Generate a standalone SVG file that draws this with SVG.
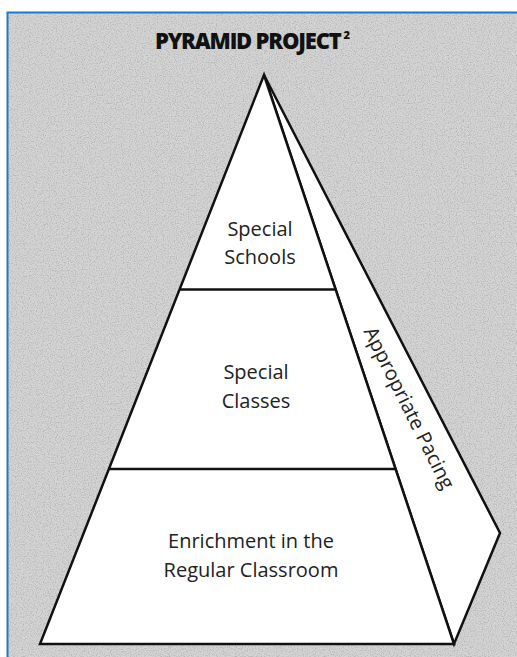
<svg xmlns="http://www.w3.org/2000/svg" width="517" height="657" viewBox="0 0 517 657">
<defs>
<filter id="grain" x="0" y="0" width="100%" height="100%">
<feTurbulence type="fractalNoise" baseFrequency="0.85" numOctaves="2" seed="3" result="n"/>
<feColorMatrix type="matrix" values="0 0 0 0 0.45  0 0 0 0 0.45  0 0 0 0 0.45  0 0 0 2.5 -1.1" in="n"/>
</filter>
<style>
.edge{fill:#ffffff;stroke:#111;stroke-width:2.5;stroke-linejoin:miter}
.line{stroke:#111;stroke-width:2.5;fill:none}
.lbl{font-family:"Open Sans","Noto Sans","Liberation Sans",sans-serif;font-size:20px;fill:#222;text-anchor:middle}
.title{font-family:"Open Sans","Liberation Sans",sans-serif;font-weight:800;font-size:22px;fill:#111;letter-spacing:-1.2px}
</style>
</defs>
<rect x="0" y="0" width="517" height="657" fill="#ffffff"/>
<rect x="7" y="12" width="520" height="660" fill="#d4d4d4"/>
<rect x="7" y="12" width="520" height="660" filter="url(#grain)"/>
<rect x="7.5" y="12.5" width="520" height="660" fill="none" stroke="#1f78c8" stroke-width="2"/>
<g id="title">
<text class="title" x="155" y="49">PYRAMID PROJECT<tspan dx="3" dy="-10" font-size="11" letter-spacing="0">2</tspan></text>
</g>
<g id="pacing-side">
<polygon class="edge" points="264,75 500,533 454,644"/>
<text class="lbl" transform="translate(403,411) rotate(63.5)">Appropriate Pacing</text>
</g>
<g id="pyramid-front">
<polygon class="edge" points="264,75 454,644 40,644"/>
</g>
<g id="connectors">
<line class="line" x1="180" y1="289.5" x2="335.5" y2="289.5"/>
<line class="line" x1="109.5" y1="469" x2="395.5" y2="469"/>
</g>
<g id="special-schools">
<text class="lbl" x="260" y="236">Special</text>
<text class="lbl" x="260" y="264">Schools</text>
</g>
<g id="special-classes">
<text class="lbl" x="256" y="379">Special</text>
<text class="lbl" x="256" y="408">Classes</text>
</g>
<g id="enrichment">
<text class="lbl" x="251" y="548">Enrichment in the</text>
<text class="lbl" x="251" y="577">Regular Classroom</text>
</g>
</svg>
